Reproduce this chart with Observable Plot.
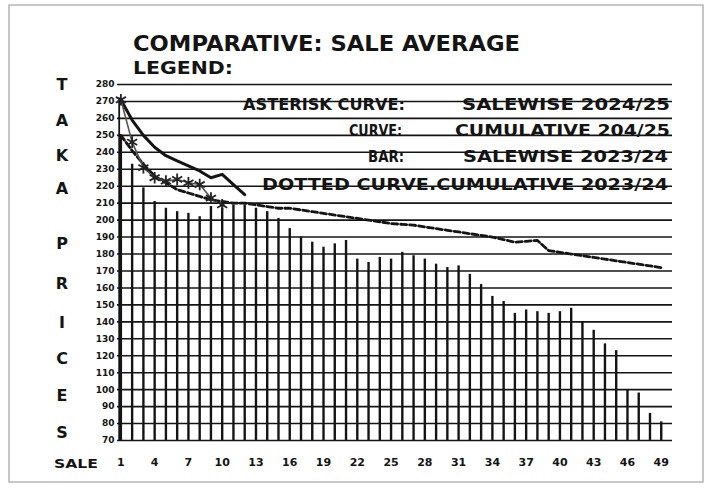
<!DOCTYPE html>
<html><head><meta charset="utf-8">
<script src="https://cdn.jsdelivr.net/npm/d3@7"></script>
<script src="https://cdn.jsdelivr.net/npm/@observablehq/plot@0.6"></script>
<style>
body{margin:0;background:#fff;}
#chart{position:relative;width:713px;height:489px;}
#chart svg text{font-weight:bold;}
</style></head><body><div id="chart"></div>
<script>
// Sale numbers (categories)
const sales = [1,2,3,4,5,6,7,8,9,10,11,12,13,14,15,16,17,18,19,20,21,22,23,24,25,26,27,28,29,30,31,32,33,34,35,36,37,38,39,40,41,42,43,44,45,46,47,48,49];
// BAR: salewise 2023/24
const salewise2324 = [250,233,219,211,207,205,204,202,208,207,209,209,207,205,201,195,190,187,184,186,188,177,175,178,177,181,179,177,174,172,173,168,162,155,152,145,147,146,145,146,148,140,135,127,123,100,98,86,81];
// DOTTED CURVE: cumulative 2023/24
const cumulative2324 = [250,241,233,226,222,218,216,214,212,211,210,210,209,208,207,207,206,205,204,203,202,201,200,199,198,197.5,197,196,195,194,193,192,191,190,188.5,187,187.5,188,182,181,180,179,178,177,176,175,174,173,172];
// ASTERISK CURVE: salewise 2024/25
const sales2425 = [1,2,3,4,5,6,7,8,9,10];
const salewise2425 = [271,246,231,225,223,224,222,221,213,209];
// CURVE: cumulative 2024/25
const cumSales2425 = [1,2,3,4,5,6,7,8,9,10,11,12];
const cumulative2425 = [271,259,250,243,238,235,232,229,225,227,221,215];
// Axis ticks
const yTicks = [70,80,90,100,110,120,130,140,150,160,170,180,190,200,210,220,230,240,250,260,270,280];
const xTicks = [1,4,7,10,13,16,19,22,25,28,31,34,37,40,43,46,49];
const sideLetters = ["T","A","K","A","P","R","I","C","E","S"];

const bars = sales.map((s,i)=>({sale:s, value:salewise2324[i]}));
const cum23 = sales.map((s,i)=>({sale:s, value:cumulative2324[i]}));
const sw24 = sales2425.map((s,i)=>({sale:s, value:salewise2425[i]}));
const cum24 = cumSales2425.map((s,i)=>({sale:s, value:cumulative2425[i]}));

const FONT = "'DejaVu Sans', 'Liberation Sans', Arial, sans-serif";
const ink = "#141414";

const chart = Plot.plot({
  width: 713, height: 489,
  marginLeft: 117, marginRight: 41, marginTop: 84, marginBottom: 49,
  x: {type: "linear", domain: [0.7, 50]},
  y: {domain: [70, 280]},
  style: {fontFamily: FONT, background: "white", color: ink},
  marks: [
    Plot.ruleY(yTicks, {stroke: ink, strokeWidth: 1.6}),
    Plot.ruleX([0.85], {y1: 70, y2: 272, stroke: ink, strokeWidth: 1.8}),
    Plot.ruleX(bars, {x: "sale", y1: 70, y2: "value", stroke: ink, strokeWidth: 2.4}),
    Plot.line(cum23, {x: "sale", y: "value", stroke: ink, strokeWidth: 2.8, strokeDasharray: "6,3"}),
    Plot.line(cum24, {x: "sale", y: "value", stroke: ink, strokeWidth: 3}),
    Plot.line(sw24, {x: "sale", y: "value", stroke: "#555", strokeWidth: 1.6}),
    Plot.dot(sw24, {x: "sale", y: "value", symbol: "asterisk", r: 5.5, stroke: "#222", strokeWidth: 1.8}),
    Plot.axisY({ticks: yTicks, tickSize: 0, tickPadding: 3, fontSize: 9, fontWeight: "bold", label: null, tickFormat: d => String(d)}),
    Plot.axisX({ticks: xTicks, tickSize: 0, tickPadding: 18, fontSize: 11, fontWeight: "bold", label: null})
  ]
});
document.getElementById("chart").appendChild(chart);

const svg = d3.select(chart);
// outer scan border
svg.append("rect").attr("x", 9).attr("y", 5).attr("width", 694).attr("height", 477)
  .attr("fill", "none").attr("stroke", "#b5b5b5").attr("stroke-width", 1.5);

function txt(s, x, y, size, opts = {}) {
  const t = svg.append("text").attr("x", x).attr("y", y).text(s)
    .attr("font-family", FONT).attr("font-size", size).attr("font-weight", "bold")
    .attr("fill", ink).attr("text-anchor", opts.anchor || "start");
  if (opts.len) t.attr("textLength", opts.len).attr("lengthAdjust", "spacingAndGlyphs");
  return t;
}
txt("COMPARATIVE: SALE AVERAGE", 133, 51, 22, {len: 387});
txt("LEGEND:", 133, 74, 18, {len: 100});

txt("ASTERISK CURVE:", 243, 110, 16, {len: 162});
txt("SALEWISE 2024/25", 462, 110, 16, {len: 208});
txt("CURVE:", 349, 136, 16, {len: 53});
txt("CUMULATIVE 204/25", 455, 136, 16, {len: 215});
txt("BAR:", 368, 162, 16, {len: 36});
txt("SALEWISE 2023/24", 463, 162, 16, {len: 205});
txt("DOTTED CURVE.CUMULATIVE 2023/24", 262, 190, 16, {len: 406});

const letterY = [90, 126, 161, 194, 249, 289, 328, 364, 401, 438];
sideLetters.forEach((l, i) => txt(l, 62, letterY[i], 16, {anchor: "middle"}));
txt("SALE", 54, 468, 12, {len: 44});
</script></body></html>
